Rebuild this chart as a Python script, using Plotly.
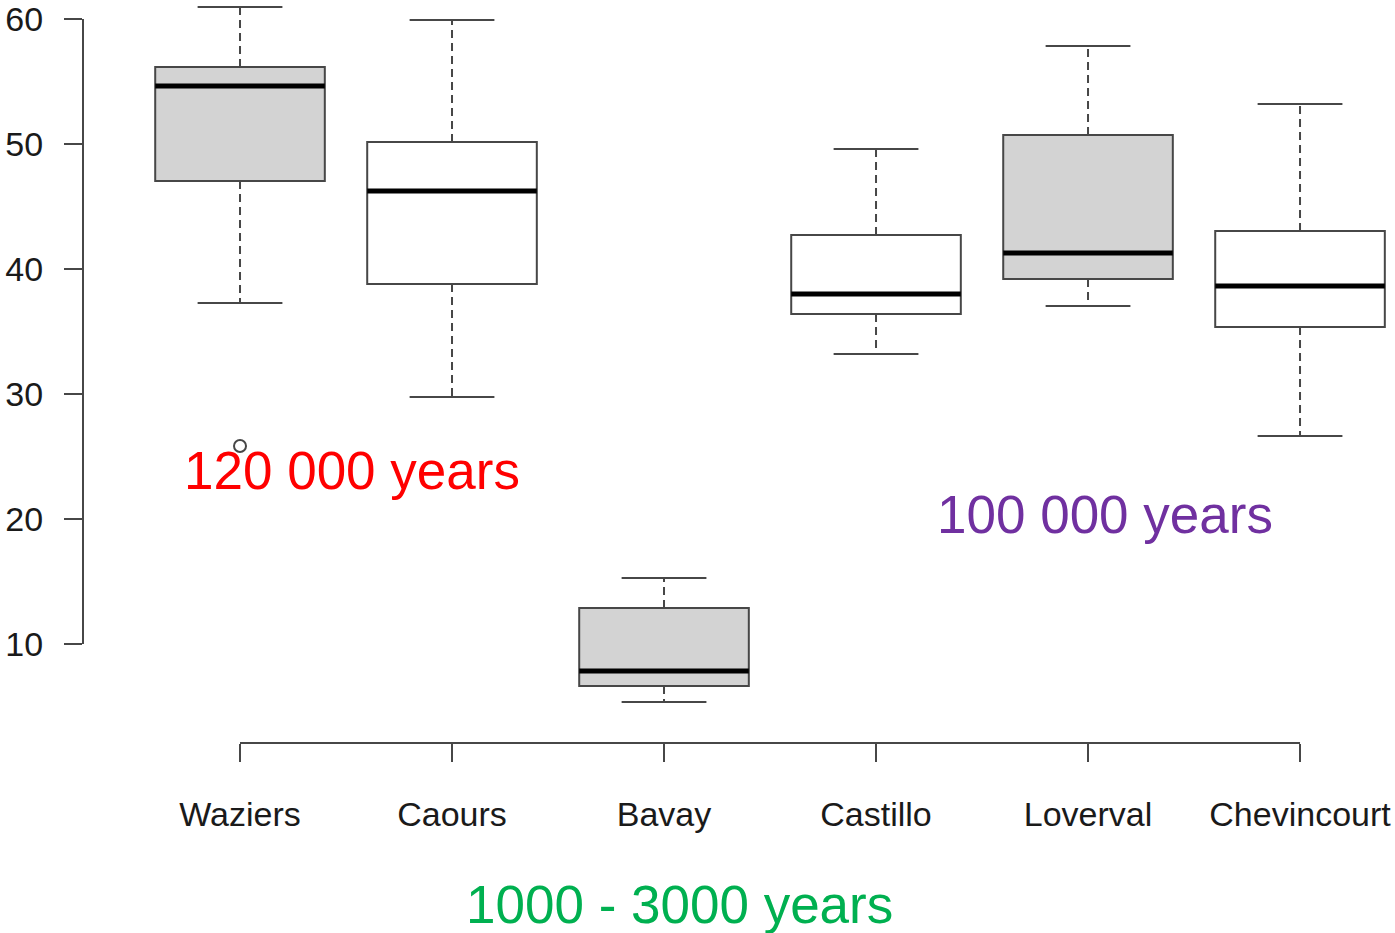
import plotly.graph_objects as go

# Sites and five-number summaries
sites = ["Waziers", "Caours", "Bavay", "Castillo", "Loverval", "Chevincourt"]
upper = [60.96, 59.92, 15.28, 49.60, 57.84, 53.20]
q3 = [56.16, 50.16, 12.88, 42.72, 50.72, 43.04]
median = [54.64, 46.24, 7.84, 38.00, 41.28, 38.64]
q1 = [47.04, 38.80, 6.64, 36.40, 39.20, 35.36]
lower = [37.28, 29.76, 5.36, 33.20, 37.04, 26.64]
fills = ["#d3d3d3", "#ffffff", "#d3d3d3", "#ffffff", "#d3d3d3", "#ffffff"]

# Outlying observations
outlier_site = [1]
outlier_value = [25.84]

pos = list(range(1, len(sites) + 1))
edge = "#474747"
box_half = 0.4
staple_half = 0.2

fig = go.Figure()

for i, p in enumerate(pos):
    fig.add_trace(go.Box(
        x=[p], q1=[q1[i]], median=[median[i]], q3=[q3[i]],
        lowerfence=[q1[i]], upperfence=[q3[i]],
        width=2 * box_half, whiskerwidth=0,
        fillcolor=fills[i], line=dict(color=edge, width=2),
        boxpoints=False, showlegend=False, hoverinfo="skip",
    ))

for i, p in enumerate(pos):
    # dashed whiskers
    for a, b in ((q3[i], upper[i]), (q1[i], lower[i])):
        fig.add_trace(go.Scatter(
            x=[p, p], y=[a, b], mode="lines",
            line=dict(color=edge, width=2, dash="8px,5px"),
            showlegend=False, hoverinfo="skip",
        ))
    # staples
    for v in (upper[i], lower[i]):
        fig.add_trace(go.Scatter(
            x=[p - staple_half, p + staple_half], y=[v, v], mode="lines",
            line=dict(color=edge, width=2),
            showlegend=False, hoverinfo="skip",
        ))
    # heavy median bar
    fig.add_trace(go.Scatter(
        x=[p - box_half, p + box_half], y=[median[i], median[i]], mode="lines",
        line=dict(color="#000000", width=5),
        showlegend=False, hoverinfo="skip",
    ))

fig.add_trace(go.Scatter(
    x=outlier_site, y=outlier_value, mode="markers",
    marker=dict(symbol="circle-open", size=12, color=edge, line=dict(width=2)),
    showlegend=False, hoverinfo="skip",
))

# R-style axis lines spanning only the tick range
fig.add_shape(type="line", xref="paper", yref="y", x0=0, x1=0, y0=10, y1=60,
              line=dict(color=edge, width=2))
fig.add_shape(type="line", xref="x", yref="paper", x0=1, x1=6, y0=0, y1=0,
              line=dict(color=edge, width=2))

font_family = "Liberation Sans, Arial, sans-serif"
fig.add_annotation(x=1.528, y=23.85, xref="x", yref="y", text="120 000 years",
                   showarrow=False, font=dict(family=font_family, size=53, color="#ff0000"))
fig.add_annotation(x=5.080, y=20.35, xref="x", yref="y", text="100 000 years",
                   showarrow=False, font=dict(family=font_family, size=53, color="#7030a0"))
fig.add_annotation(x=3.075, y=-0.2598, xref="x", yref="paper", text="1000 - 3000 years",
                   showarrow=False, font=dict(family=font_family, size=53, color="#00b050"))

fig.update_layout(
    width=1395, height=933, autosize=False,
    margin=dict(l=83, r=0, t=0, b=190),
    paper_bgcolor="white", plot_bgcolor="white",
    boxmode="overlay",
    font=dict(family=font_family, size=34, color="#1a1a1a"),
    xaxis=dict(range=[0.2594, 6.448], tickvals=pos, ticktext=sites,
               ticks="outside", ticklen=18, tickwidth=2, tickcolor=edge,
               ticklabelstandoff=23, ticklabeloverflow="allow",
               showline=False, showgrid=False, zeroline=False),
    yaxis=dict(range=[2.08, 61.52], tickvals=[10, 20, 30, 40, 50, 60],
               ticks="outside", ticklen=18, tickwidth=2, tickcolor=edge,
               ticklabelstandoff=14, ticklabeloverflow="allow",
               showline=False, showgrid=False, zeroline=False),
)

fig.write_html("out.html")
